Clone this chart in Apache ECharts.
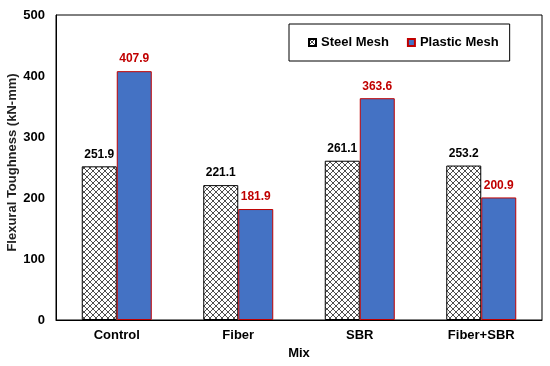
<!DOCTYPE html>
<html><head><meta charset="utf-8">
<script src="https://cdn.jsdelivr.net/npm/echarts@6/dist/echarts.min.js"></script>
<style>html,body{margin:0;padding:0;background:#fff}#c{width:550px;height:366px}</style>
</head><body><div id="c"></div>
<script>
const categories = ['Control', 'Fiber', 'SBR', 'Fiber+SBR'];
const steelMesh = [251.9, 221.1, 261.1, 253.2];
const plasticMesh = [407.9, 181.9, 363.6, 200.9];
const yTicks = [0, 100, 200, 300, 400, 500];

function hatch() {
  const c = document.createElement('canvas');
  c.width = 6; c.height = 6;
  const g = c.getContext('2d');
  g.fillStyle = '#fff'; g.fillRect(0, 0, 6, 6);
  g.strokeStyle = '#222'; g.lineWidth = 0.8;
  g.beginPath();
  g.moveTo(0, 0); g.lineTo(6, 6);
  g.moveTo(6, 0); g.lineTo(0, 6);
  g.stroke();
  return c;
}
const font = 'Liberation Sans, Arial, sans-serif';
const chart = echarts.init(document.getElementById('c'));
chart.setOption({
  animation: false,
  grid: { left: 56, right: 8, top: 15, bottom: 46, containLabel: false, outerBoundsMode: 'none',
    show: true, borderColor: '#000', borderWidth: 1 },
  legend: {
    top: 24, left: 289, itemWidth: 7, itemHeight: 7, itemGap: 18, icon: 'rect',
    padding: [12, 11, 12, 19],
    borderColor: '#000', borderWidth: 1,
    textStyle: { fontFamily: font, fontWeight: 'bold', fontSize: 13, color: '#000' },
    data: ['Steel Mesh', 'Plastic Mesh']
  },
  xAxis: {
    type: 'category', data: categories,
    name: 'Mix', nameLocation: 'middle', nameGap: 27, nameMoveOverlap: false,
    nameTextStyle: { fontFamily: font, fontWeight: 'bold', fontSize: 13, color: '#000' },
    axisLine: { lineStyle: { color: '#000' } },
    axisTick: { show: false },
    axisLabel: { fontFamily: font, fontWeight: 'bold', fontSize: 13, color: '#000', margin: 9 }
  },
  yAxis: {
    type: 'value', min: 0, max: 500, interval: 100,
    name: 'Flexural Toughness (kN-mm)', nameLocation: 'middle', nameGap: 37, nameMoveOverlap: false,
    nameTextStyle: { fontFamily: font, fontWeight: 'bold', fontSize: 13, color: '#222', padding: [0, 0, 0, 10] },
    axisLine: { show: true, lineStyle: { color: '#000' } },
    axisTick: { show: false },
    splitLine: { show: false },
    axisLabel: { fontFamily: font, fontWeight: 'bold', fontSize: 13, color: '#000', margin: 11,
      formatter: v => yTicks.includes(v) ? String(v) : '' }
  },
  series: [
    {
      name: 'Steel Mesh', type: 'bar', data: steelMesh, barWidth: 35, barGap: '0%',
      itemStyle: { color: { image: hatch(), repeat: 'repeat' }, borderColor: '#000', borderWidth: 1 },
      label: { show: true, position: 'top', distance: 6, fontFamily: font, fontWeight: 'bold', fontSize: 12, color: '#000',
        formatter: p => p.value.toFixed(1) }
    },
    {
      name: 'Plastic Mesh', type: 'bar', data: plasticMesh, barWidth: 35,
      itemStyle: { color: '#4472C4', borderColor: '#C00000', borderWidth: 1 },
      label: { show: true, position: 'top', distance: 6, fontFamily: font, fontWeight: 'bold', fontSize: 12, color: '#C00000',
        formatter: p => p.value.toFixed(1) }
    }
  ]
});
</script></body></html>
